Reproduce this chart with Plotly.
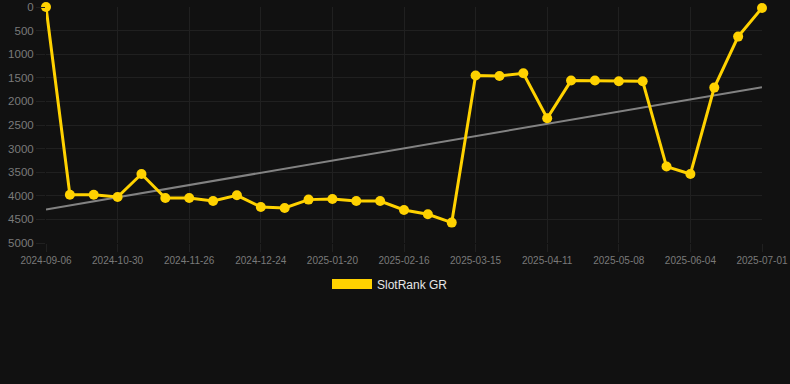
import plotly.graph_objects as go

dates = ["2024-09-06", "2024-09-24", "2024-10-12", "2024-10-30", "2024-11-08", "2024-11-17",
         "2024-11-26", "2024-12-05", "2024-12-14", "2024-12-24", "2025-01-02", "2025-01-11",
         "2025-01-20", "2025-01-29", "2025-02-07", "2025-02-16", "2025-02-25", "2025-03-06",
         "2025-03-15", "2025-03-24", "2025-04-02", "2025-04-11", "2025-04-20", "2025-04-29",
         "2025-05-08", "2025-05-17", "2025-05-26", "2025-06-04", "2025-06-13", "2025-06-22",
         "2025-07-01"]
ranks = [0, 3977, 3977, 4025, 3538, 4047, 4047, 4110, 3989, 4237, 4258, 4081,
         4068, 4110, 4110, 4301, 4392, 4568, 1453, 1462, 1405, 2358, 1559, 1559,
         1574, 1574, 3381, 3538, 1708, 627, 21]
trend_x = [dates[0], dates[-1]]
trend_y = [4290, 1700]
y_ticks = [0, 500, 1000, 1500, 2000, 2500, 3000, 3500, 4000, 4500, 5000]

GOLD = "#FFD200"
GRID = "#202020"
LABEL = "#7a7a7a"
FONT = "Liberation Sans, Arial, sans-serif"

fig = go.Figure()
fig.add_trace(go.Scatter(x=trend_x, y=trend_y, mode="lines",
                         line=dict(color="rgba(150,150,150,0.85)", width=2),
                         showlegend=False, hoverinfo="skip"))
fig.add_trace(go.Scatter(x=dates, y=ranks, mode="lines+markers",
                         line=dict(color=GOLD, width=3),
                         marker=dict(color=GOLD, size=10),
                         cliponaxis=False, showlegend=False, name="SlotRank GR"))
fig.add_trace(go.Scatter(x=[None], y=[None], mode="lines", name="SlotRank GR",
                         line=dict(color=GOLD, width=12), showlegend=True))

fig.update_layout(
    width=790, height=384,
    paper_bgcolor="#111111", plot_bgcolor="#111111",
    margin=dict(l=46, r=28, t=7, b=141, autoexpand=False),
    font=dict(family=FONT, color=LABEL),
    showlegend=True,
    legend=dict(orientation="h", x=390 / 790, xanchor="center", xref="container",
                y=1 - 284 / 384, yanchor="middle", yref="container",
                font=dict(size=12, color="#e6e6e6"), itemwidth=40,
                bgcolor="rgba(0,0,0,0)"),
    xaxis=dict(type="category", categoryorder="array", categoryarray=dates,
               range=[0, 30], tickmode="array", tickvals=dates[::3], ticktext=dates[::3],
               showgrid=True, gridcolor=GRID, gridwidth=1, zeroline=False,
               ticks="outside", ticklen=8, tickcolor=GRID, automargin=False,
               tickfont=dict(size=10, color=LABEL), showline=False),
    yaxis=dict(range=[5000, 0], tickmode="array", tickvals=y_ticks,
               showgrid=True, gridcolor=GRID, gridwidth=1, zeroline=False,
               ticks="outside", ticklen=9, tickcolor=GRID, automargin=False,
               tickfont=dict(size=11.5, color=LABEL), showline=False),
)
fig.write_html("out.html", config={"displayModeBar": False},
               post_script="document.body.style.margin='0';document.body.style.background='#111111';")
